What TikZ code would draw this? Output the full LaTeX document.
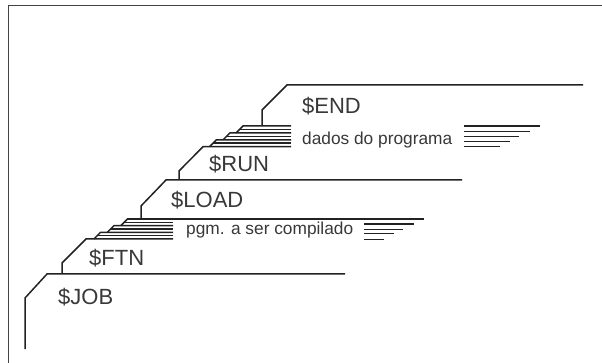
\documentclass[tikz,border=0pt]{standalone}
\usepackage{fontspec}
\setmainfont{Liberation Sans}
\usetikzlibrary{positioning}
\definecolor{ink}{HTML}{222222}
\tikzset{
  x=1pt, y=-1pt,
  cardedge/.style={draw=ink, line width=1.5pt},
  frameline/.style={draw=ink!85, line width=1.8pt},
  cmd/.style={inner sep=0pt, anchor=base west, text=ink!90, font=\fontsize{22}{24}\selectfont},
  cardtext/.style={inner sep=0pt, anchor=base west, text=ink!90, font=\fontsize{17.3}{19}\selectfont},
}

\begin{document}
\begin{tikzpicture}
  \useasboundingbox (0,0) rectangle (602,363);
  % frame
  \draw[frameline] (8.5,363) -- (8.5,5.5) -- (602,5.5);

  % control cards
  \coordinate (jobc) at (47,274);
  \coordinate (ftnc) at (86,239);
  \coordinate (loadc) at (166,180);
  \coordinate (runc) at (203,146.7);
  \coordinate (endc) at (287,85);
  \draw[cardedge] (25,349) -- (25,298) -- (jobc) -- (345,274);
  \draw[cardedge] (62,274) -- (62,263) -- (ftnc) -- (173,239);
  \draw[cardedge] (364,239.3) -- (384,239.3);
  \draw[cardedge] (141,219) -- (141,206) -- (loadc) -- (462,180);
  \draw[cardedge] (179,180) -- (179,171) -- (runc) -- (291,146.7);
  \draw[cardedge] (464,146.7) -- (499.5,146.7);
  \draw[cardedge] (262,126) -- (262,110) -- (endc) -- (583,85);

  % program deck
  \draw[cardedge] (127.5,219) -- (424,219);
  \foreach \xs [count=\i from 0] in {127.5,114,100.5} {
    \pgfmathsetmacro\yt{219+\i*6.67}
    \draw[cardedge] (\xs-6.67,\yt+6.67) -- (\xs,\yt) -- (173,\yt);
    \draw[cardedge] (\xs-3.33,\yt+3.33) -- (173,\yt+3.33);
  }
  \foreach \yy/\xe in {224/414,229.3/403,233.7/393.5}
    \draw[cardedge] (364,\yy) -- (\xe,\yy);

  % data deck
  \foreach \xs [count=\i from 0] in {243,230,216.5} {
    \pgfmathsetmacro\yt{126+\i*6.9}
    \draw[cardedge] (\xs-6.9,\yt+6.9) -- (\xs,\yt) -- (291,\yt);
    \draw[cardedge] (\xs-3.45,\yt+3.45) -- (291,\yt+3.45);
  }
  \foreach \yy/\xe in {126/540,131.7/530,136.7/519,141.3/510}
    \draw[cardedge] (464,\yy) -- (\xe,\yy);

  % labels
  \node[cmd] (job) at (58,305) {\$JOB};
  \node[cmd] (ftn) at (89,265.5) {\$FTN};
  \node[cmd] (load) at (171,207.5) {\$LOAD};
  \node[cmd] (run) at (209,172) {\$RUN};
  \node[cmd] (end) at (302,113.5) {\$END};
  \node[cardtext] (pgm) at (186,235) {pgm. a ser compilado};
  \node[cardtext] (dados) at (302,144.5) {dados do programa};
\end{tikzpicture}
\end{document}
